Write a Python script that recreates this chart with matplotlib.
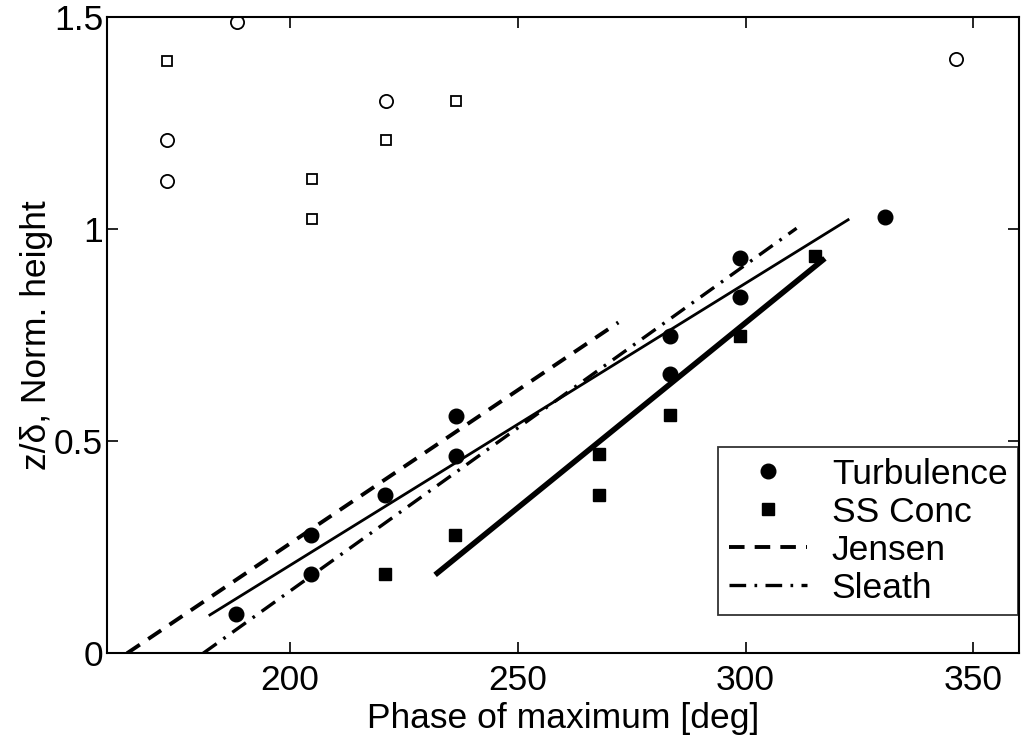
import matplotlib
matplotlib.use("Agg")
import matplotlib.pyplot as plt

plt.rcParams['font.family'] = ['Liberation Sans', 'DejaVu Sans']

# turbulence maxima (filled circles)
turb_x = [188.3, 204.6, 204.6, 221.0, 236.4, 236.4, 283.4, 283.4, 298.8, 298.8, 330.5]
turb_y = [0.092, 0.187, 0.280, 0.374, 0.465, 0.559, 0.658, 0.747, 0.840, 0.933, 1.028]

# suspended sediment maxima (filled squares)
ss_x = [220.9, 236.3, 267.8, 267.8, 283.4, 298.7, 315.2]
ss_y = [0.187, 0.280, 0.374, 0.469, 0.561, 0.747, 0.937]

# points excluded from the fits (open symbols)
turb_out_x = [173.0, 173.0, 188.5, 221.1, 346.1]
turb_out_y = [1.114, 1.209, 1.489, 1.303, 1.400]
ss_out_x = [173.0, 204.8, 204.8, 221.1, 236.5]
ss_out_y = [1.396, 1.117, 1.024, 1.211, 1.303]

# line end points
turb_fit_x = [182.5, 322.5]
turb_fit_y = [0.0905, 1.022]
ss_fit_x = [231.9, 317.4]
ss_fit_y = [0.185, 0.931]
jensen_x = [164.3, 272.1]
jensen_y = [0.0, 0.780]
sleath_x = [181.0, 311.2]
sleath_y = [0.0, 1.002]

FS = 25.5

fig = plt.figure(figsize=(10.33, 7.35), dpi=100)
ax = fig.add_axes([0.1039, 0.1111, 0.8826, 0.8658])

ax.plot(turb_x, turb_y, 'o', color='black', ms=10.5, label='Turbulence')
ax.plot(ss_x, ss_y, 's', color='black', ms=8.5, label='SS Conc')
ax.plot(jensen_x, jensen_y, color='black', lw=2.8, dashes=(4, 2.6), label='Jensen')
ax.plot(sleath_x, sleath_y, color='black', lw=2.4, dashes=(5, 2.5, 0.8, 2.5), label='Sleath')
ax.plot(turb_fit_x, turb_fit_y, color='black', lw=2.0)
ax.plot(ss_fit_x, ss_fit_y, color='black', lw=4.0, solid_capstyle='butt')
ax.plot(turb_out_x, turb_out_y, 'o', mfc='white', mec='black', mew=1.3, ms=9.5)
ax.plot(ss_out_x, ss_out_y, 's', mfc='white', mec='black', mew=1.3, ms=7.5)

ax.set_xlim(160, 360)
ax.set_ylim(0, 1.5)
ax.set_xticks([200, 250, 300, 350])
ax.set_yticks([0, 0.5, 1, 1.5])
ax.set_yticklabels(['0', '0.5', '1', '1.5'])
ax.tick_params(direction='in', length=8, width=1.2, labelsize=FS,
               top=True, right=True)
ax.tick_params(axis='x', pad=8)
ax.tick_params(axis='y', pad=3)
for sp in ax.spines.values():
    sp.set_linewidth(1.5)

ax.set_xlabel('Phase of maximum [deg]', fontsize=FS, labelpad=3)
ax.set_ylabel('z/\u03b4, Norm. height', fontsize=FS, labelpad=1)

leg = ax.legend(loc='lower right', bbox_to_anchor=(0.999, 0.06), borderaxespad=0,
                fontsize=FS, frameon=True, fancybox=False, edgecolor='black',
                handlelength=2.2, handletextpad=0.7, borderpad=0.3,
                labelspacing=0.14)
leg.get_frame().set_linewidth(1.3)

fig.savefig('out.png', dpi=100)
